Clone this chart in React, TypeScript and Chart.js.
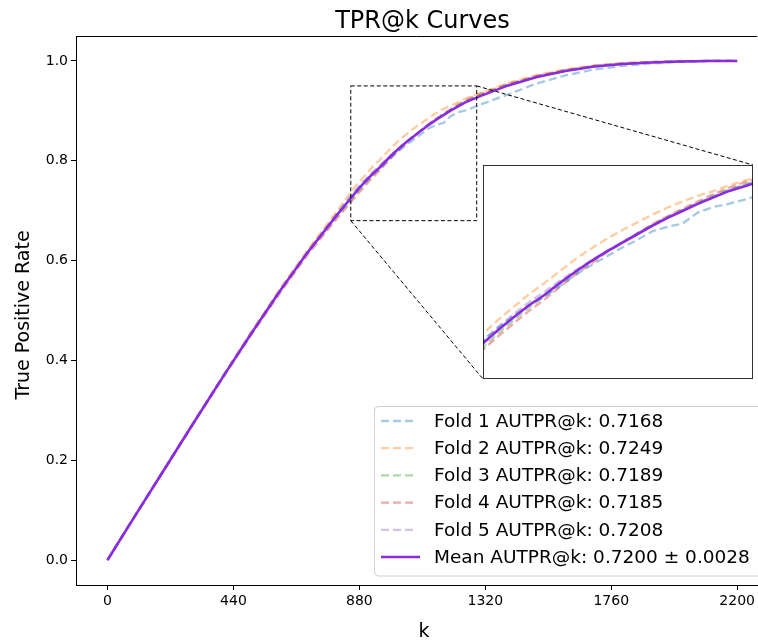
import { useEffect, useRef } from "react";
import { Chart, registerables } from "chart.js";
Chart.register(...registerables);

const kValues = [0, 100, 200, 300, 400, 500, 600, 700, 800, 850, 875, 900, 925, 950, 975, 1000, 1025, 1050, 1075, 1100, 1125, 1150, 1175, 1200, 1225, 1250, 1275, 1300, 1400, 1500, 1600, 1700, 1800, 1900, 2000, 2100, 2200];

const fold1Tpr = [0, 0.093, 0.184, 0.275, 0.365, 0.452, 0.537, 0.617, 0.692, 0.729, 0.745, 0.76, 0.773, 0.784, 0.797, 0.811, 0.823, 0.834, 0.845, 0.855, 0.866, 0.872, 0.876, 0.89, 0.897, 0.901, 0.906, 0.912, 0.933, 0.955, 0.971, 0.983, 0.99, 0.995, 0.998, 1.0, 1.0];
const fold2Tpr = [0, 0.092, 0.183, 0.275, 0.366, 0.455, 0.541, 0.622, 0.698, 0.737, 0.755, 0.771, 0.787, 0.801, 0.816, 0.831, 0.844, 0.856, 0.867, 0.877, 0.887, 0.896, 0.904, 0.911, 0.917, 0.924, 0.93, 0.935, 0.956, 0.972, 0.983, 0.991, 0.996, 0.998, 1.0, 1.0, 1.0];
const fold3Tpr = [0, 0.092, 0.183, 0.274, 0.364, 0.452, 0.537, 0.617, 0.688, 0.72, 0.738, 0.754, 0.77, 0.784, 0.8, 0.814, 0.828, 0.84, 0.851, 0.863, 0.874, 0.884, 0.893, 0.902, 0.911, 0.919, 0.925, 0.931, 0.953, 0.969, 0.981, 0.99, 0.995, 0.998, 0.999, 1.0, 1.0];
const fold4Tpr = [0, 0.091, 0.182, 0.273, 0.362, 0.449, 0.533, 0.612, 0.683, 0.717, 0.734, 0.75, 0.766, 0.78, 0.796, 0.811, 0.825, 0.839, 0.851, 0.863, 0.875, 0.885, 0.895, 0.904, 0.913, 0.921, 0.928, 0.934, 0.954, 0.97, 0.982, 0.99, 0.995, 0.998, 0.999, 1.0, 1.0];
const fold5Tpr = [0, 0.092, 0.183, 0.274, 0.365, 0.453, 0.538, 0.618, 0.693, 0.728, 0.746, 0.762, 0.777, 0.79, 0.804, 0.817, 0.829, 0.841, 0.852, 0.863, 0.874, 0.884, 0.893, 0.902, 0.91, 0.918, 0.925, 0.931, 0.952, 0.969, 0.981, 0.989, 0.994, 0.997, 0.999, 1.0, 1.0];
const meanTpr = [0, 0.092, 0.183, 0.274, 0.364, 0.452, 0.537, 0.617, 0.69, 0.725, 0.742, 0.758, 0.773, 0.786, 0.801, 0.815, 0.828, 0.84, 0.851, 0.862, 0.873, 0.883, 0.892, 0.901, 0.909, 0.917, 0.923, 0.929, 0.951, 0.968, 0.98, 0.989, 0.994, 0.997, 0.999, 1.0, 1.0];

const foldSeries = [fold1Tpr, fold2Tpr, fold3Tpr, fold4Tpr, fold5Tpr];
const foldLabels = [
  "Fold 1 AUTPR@k: 0.7168",
  "Fold 2 AUTPR@k: 0.7249",
  "Fold 3 AUTPR@k: 0.7189",
  "Fold 4 AUTPR@k: 0.7185",
  "Fold 5 AUTPR@k: 0.7208",
];
const meanLabel = "Mean AUTPR@k: 0.7200 ± 0.0028";

const xTickValues = [0, 440, 880, 1320, 1760, 2200];
const yTickValues = [0, 0.2, 0.4, 0.6, 0.8, 1.0];
const zoomX = [850, 1290];
const zoomY = [0.68, 0.95];

const titleText = "TPR@k Curves";
const xTitle = "k";
const yTitle = "True Positive Rate";

const foldColors = [
  "rgba(31,119,180,0.4)",
  "rgba(255,127,14,0.4)",
  "rgba(44,160,44,0.4)",
  "rgba(214,39,40,0.4)",
  "rgba(148,103,189,0.4)",
];
const meanColor = "#8A2BE2";
const FONT = "'DejaVu Sans', sans-serif";

const W = 758;
const H = 641;
const INSET = { left: 483, top: 165, width: 270, height: 214 };

function makeDatasets(): any[] {
  const ds: any[] = foldSeries.map((arr, i) => ({
    label: foldLabels[i],
    data: kValues.map((k, j) => ({ x: k, y: arr[j] })),
    borderColor: foldColors[i],
    borderWidth: 2.3,
    borderDash: [8, 4],
    pointRadius: 0,
    fill: false,
    tension: 0,
    order: 1,
  }));
  ds.push({
    label: meanLabel,
    data: kValues.map((k, j) => ({ x: k, y: meanTpr[j] })),
    borderColor: meanColor,
    borderWidth: 2.6,
    pointRadius: 0,
    fill: false,
    tension: 0,
    order: 0,
  });
  return ds;
}

const mainDecor = {
  id: "mainDecor",
  afterDraw(chart: any) {
    const ctx = chart.ctx;
    const a = chart.chartArea;
    const xs = chart.scales.x;
    const ys = chart.scales.y;
    ctx.save();
    // top spine
    ctx.strokeStyle = "#000";
    ctx.lineWidth = 1;
    ctx.beginPath();
    ctx.moveTo(a.left, a.top + 0.5);
    ctx.lineTo(a.right, a.top + 0.5);
    ctx.stroke();

    // zoom box
    const bx0 = xs.getPixelForValue(zoomX[0]);
    const bx1 = xs.getPixelForValue(zoomX[1]);
    const by0 = ys.getPixelForValue(zoomY[0]);
    const by1 = ys.getPixelForValue(zoomY[1]);
    ctx.setLineDash([4, 2.5]);
    ctx.strokeStyle = "#000";
    ctx.lineWidth = 1;
    ctx.strokeRect(bx0, by1, bx1 - bx0, by0 - by1);
    // connectors
    ctx.beginPath();
    ctx.moveTo(bx0, by0);
    ctx.lineTo(INSET.left, INSET.top + INSET.height);
    ctx.moveTo(bx1, by1);
    ctx.lineTo(INSET.left + INSET.width, INSET.top);
    ctx.stroke();
    ctx.setLineDash([]);

    // legend
    const lx = 374, ly = 406, lw = 400, lh = 170;
    ctx.fillStyle = "rgba(255,255,255,0.85)";
    ctx.strokeStyle = "#d0d0d0";
    ctx.lineWidth = 1;
    ctx.beginPath();
    const r = 4;
    ctx.moveTo(lx + r, ly + 0.5);
    ctx.lineTo(lx + lw, ly + 0.5);
    ctx.lineTo(lx + lw, ly + lh);
    ctx.lineTo(lx + r, ly + lh);
    ctx.arcTo(lx + 0.5, ly + lh, lx + 0.5, ly + lh - r, r);
    ctx.lineTo(lx + 0.5, ly + r);
    ctx.arcTo(lx + 0.5, ly + 0.5, lx + r, ly + 0.5, r);
    ctx.closePath();
    ctx.fill();
    ctx.stroke();
    chart.data.datasets.forEach((d: any, i: number) => {
      const cy = 421 + i * 27.2;
      ctx.strokeStyle = d.borderColor;
      ctx.lineWidth = d.borderWidth;
      ctx.setLineDash(d.borderDash || []);
      ctx.beginPath();
      ctx.moveTo(381, cy);
      ctx.lineTo(d.borderDash ? 417 : 420, cy);
      ctx.stroke();
      ctx.setLineDash([]);
      ctx.fillStyle = "#000";
      ctx.font = `18.5px ${FONT}`;
      ctx.textAlign = "left";
      ctx.textBaseline = "middle";
      ctx.fillText(d.label, 434, cy + 1);
    });

    // titles
    ctx.fillStyle = "#000";
    ctx.textAlign = "center";
    ctx.textBaseline = "alphabetic";
    ctx.font = `24px ${FONT}`;
    ctx.fillText(titleText, 422.5, 28);
    ctx.font = `19px ${FONT}`;
    ctx.fillText(xTitle, 424, 637);
    ctx.translate(29, 315);
    ctx.rotate(-Math.PI / 2);
    ctx.fillText(yTitle, 0, 0);
    ctx.restore();
  },
};

const insetDecor = {
  id: "insetDecor",
  beforeDraw(chart: any) {
    const ctx = chart.ctx;
    ctx.save();
    ctx.fillStyle = "#fff";
    ctx.fillRect(0, 0, chart.width, chart.height);
    ctx.restore();
  },
  afterDraw(chart: any) {
    const ctx = chart.ctx;
    ctx.save();
    ctx.strokeStyle = "rgba(0,0,0,0.8)";
    ctx.lineWidth = 1;
    ctx.strokeRect(0.5, 0.5, chart.width - 1, chart.height - 1);
    ctx.restore();
  },
};

export default function App() {
  const mainRef = useRef<HTMLCanvasElement>(null);
  const insetRef = useRef<HTMLCanvasElement>(null);

  useEffect(() => {
    document.body.style.margin = "0";
    const tickFont = { family: FONT, size: 14 };
    const main = new Chart(mainRef.current as HTMLCanvasElement, {
      type: "line",
      data: { datasets: makeDatasets() },
      options: {
        animation: false,
        responsive: false,
        devicePixelRatio: 1,
        layout: { padding: { top: 36, left: 0, right: 0, bottom: 0 } },
        plugins: { legend: { display: false }, tooltip: { enabled: false }, title: { display: false } },
        scales: {
          x: {
            type: "linear",
            min: -110,
            max: 2270,
            afterBuildTicks: (s: any) => {
              s.ticks = xTickValues.map((v) => ({ value: v }));
            },
            afterFit: (s: any) => {
              s.height = 56;
            },
            ticks: { font: tickFont, color: "#000", padding: 3, maxRotation: 0, autoSkip: false, callback: (v: any) => String(v) },
            grid: { drawOnChartArea: false, drawTicks: true, tickLength: 5, tickColor: "#000", tickWidth: 1 },
            border: { display: true, color: "#000", width: 1 },
          },
          y: {
            type: "linear",
            min: -0.05,
            max: 1.05,
            afterBuildTicks: (s: any) => {
              s.ticks = yTickValues.map((v) => ({ value: v }));
            },
            afterFit: (s: any) => {
              s.width = 76;
            },
            ticks: { font: tickFont, color: "#000", padding: 3, autoSkip: false, callback: (v: any) => Number(v).toFixed(1) },
            grid: { drawOnChartArea: false, drawTicks: true, tickLength: 5, tickColor: "#000", tickWidth: 1 },
            border: { display: true, color: "#000", width: 1 },
          },
        },
      } as any,
      plugins: [mainDecor],
    });

    const inset = new Chart(insetRef.current as HTMLCanvasElement, {
      type: "line",
      data: { datasets: makeDatasets() },
      options: {
        animation: false,
        responsive: false,
        devicePixelRatio: 1,
        layout: { padding: 0 },
        plugins: { legend: { display: false }, tooltip: { enabled: false } },
        scales: {
          x: { type: "linear", min: zoomX[0], max: zoomX[1], display: false },
          y: { type: "linear", min: zoomY[0], max: zoomY[1], display: false },
        },
      } as any,
      plugins: [insetDecor],
    });

    return () => {
      main.destroy();
      inset.destroy();
    };
  }, []);

  return (
    <div style={{ position: "absolute", left: 0, top: 0, width: W, height: H, background: "#fff", overflow: "hidden" }}>
      <canvas ref={mainRef} width={W} height={H} style={{ position: "absolute", left: 0, top: 0, width: W, height: H }} />
      <canvas
        ref={insetRef}
        width={INSET.width}
        height={INSET.height}
        style={{ position: "absolute", left: INSET.left, top: INSET.top, width: INSET.width, height: INSET.height }}
      />
    </div>
  );
}
